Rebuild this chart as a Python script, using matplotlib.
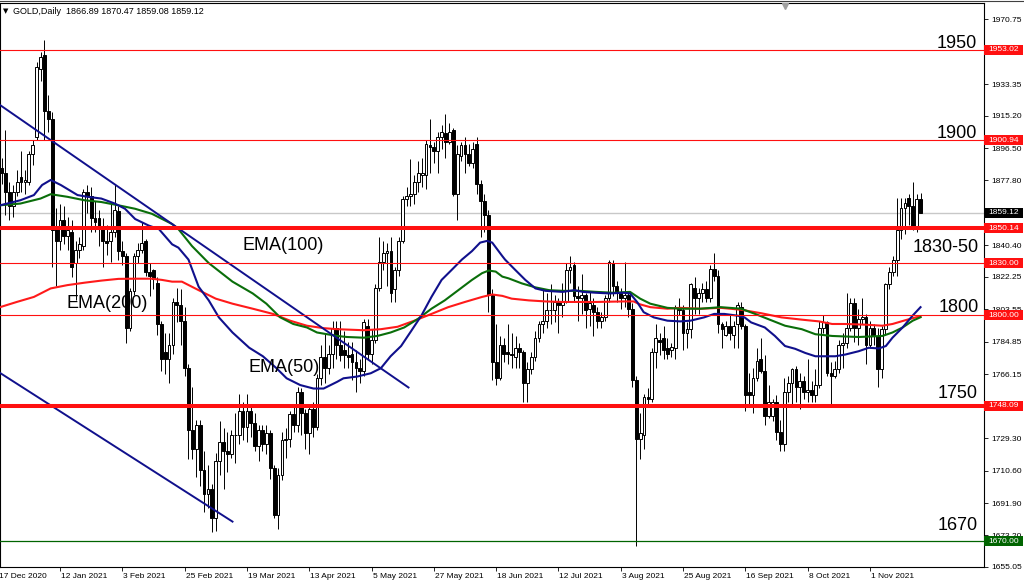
import matplotlib
matplotlib.use("Agg")
import matplotlib.pyplot as plt
import matplotlib.transforms as mtransforms
from matplotlib.patches import Rectangle
import numpy as np

plt.rcParams["font.family"] = ["Liberation Sans", "DejaVu Sans"]

# daily bars, bar 0 = 17 Dec 2020, first drawn bar is bar 1
first_bar = 1
opens = [
    1885, 1882, 1871, 1863, 1871, 1880, 1877, 1877, 1893, 1903,
    1942, 1950, 1918, 1913, 1850, 1843, 1855, 1846, 1848, 1830,
    1838, 1840, 1871, 1869, 1856, 1856, 1850, 1843, 1843, 1848,
    1860, 1837, 1834, 1793, 1814, 1834, 1838, 1843, 1825, 1826,
    1819, 1795, 1779, 1775, 1783, 1808, 1806, 1797, 1770, 1734,
    1723, 1737, 1711, 1697, 1700, 1683, 1716, 1727, 1722, 1720,
    1731, 1731, 1745, 1736, 1745, 1738, 1725, 1734, 1726, 1732,
    1712, 1685, 1708, 1728, 1729, 1743, 1737, 1756, 1744, 1732,
    1746, 1736, 1764, 1776, 1770, 1778, 1793, 1783, 1780, 1777,
    1778, 1773, 1770, 1768, 1794, 1778, 1786, 1816, 1831, 1836,
    1837, 1815, 1826, 1843, 1867, 1869, 1870, 1877, 1881, 1881,
    1898, 1897, 1895, 1903, 1905, 1900, 1907, 1870, 1892, 1898,
    1893, 1888, 1899, 1876, 1866, 1858, 1812, 1773, 1764, 1783,
    1779, 1778, 1776, 1781, 1779, 1761, 1769, 1776, 1787, 1795,
    1797, 1803, 1803, 1808, 1806, 1808, 1826, 1829, 1811, 1810,
    1812, 1804, 1806, 1802, 1797, 1799, 1810, 1830, 1817, 1813,
    1810, 1812, 1804, 1763, 1729, 1731, 1753, 1752, 1779, 1786,
    1787, 1781, 1780, 1781, 1805, 1803, 1790, 1792, 1816, 1810,
    1813, 1815, 1810, 1827, 1823, 1795, 1789, 1794, 1789, 1795,
    1805, 1794, 1756, 1754, 1764, 1775, 1768, 1742, 1742, 1750,
    1733, 1726, 1756, 1761, 1769, 1759, 1762, 1756, 1757, 1754,
    1760, 1793, 1796, 1767, 1765, 1769, 1783, 1784, 1793, 1807,
    1793, 1798, 1799, 1783, 1793, 1788, 1769, 1792, 1818, 1825,
    1832, 1849, 1862, 1868, 1863, 1851, 1866.89,
]
highs = [
    1891, 1907, 1877, 1875, 1884, 1895, 1884, 1895, 1901, 1946,
    1952, 1959, 1927, 1917, 1862, 1864, 1863, 1857, 1855, 1843,
    1845, 1873, 1875, 1874, 1866, 1861, 1856, 1852, 1864, 1876,
    1863, 1843, 1836, 1816, 1836, 1842, 1854, 1844, 1830, 1827,
    1822, 1797, 1790, 1790, 1810, 1816, 1815, 1805, 1772, 1759,
    1740, 1740, 1722, 1714, 1703, 1721, 1739, 1735, 1733, 1734,
    1744, 1755, 1750, 1755, 1747, 1744, 1737, 1737, 1737, 1734,
    1714, 1712, 1733, 1735, 1745, 1748, 1759, 1758, 1746, 1748,
    1750, 1766, 1783, 1790, 1783, 1797, 1797, 1797, 1791, 1785,
    1785, 1780, 1775, 1798, 1798, 1792, 1818, 1845, 1843, 1842,
    1845, 1828, 1845, 1869, 1874, 1890, 1881, 1889, 1891, 1901,
    1913, 1900, 1906, 1910, 1916, 1911, 1908, 1898, 1900, 1903,
    1899, 1900, 1903, 1878, 1870, 1861, 1815, 1795, 1788, 1787,
    1795, 1790, 1788, 1784, 1780, 1773, 1779, 1791, 1797, 1815,
    1813, 1818, 1812, 1810, 1819, 1830, 1834, 1831, 1817, 1824,
    1813, 1814, 1810, 1805, 1802, 1812, 1832, 1832, 1820, 1816,
    1831, 1814, 1807, 1765, 1744, 1755, 1758, 1781, 1795, 1790,
    1794, 1787, 1784, 1806, 1810, 1806, 1796, 1819, 1822, 1816,
    1819, 1820, 1829, 1836, 1826, 1796, 1797, 1800, 1797, 1808,
    1808, 1795, 1767, 1770, 1781, 1787, 1777, 1760, 1752, 1754,
    1740, 1764, 1765, 1770, 1771, 1767, 1765, 1775, 1762, 1769,
    1797, 1800, 1797, 1773, 1774, 1786, 1790, 1813, 1810, 1810,
    1804, 1810, 1801, 1797, 1795, 1793, 1794, 1819, 1828, 1834,
    1868, 1868, 1868, 1870, 1877, 1870, 1870.47,
]
lows = [
    1876, 1858, 1855, 1857, 1869, 1871, 1870, 1875, 1887, 1901,
    1935, 1901, 1906, 1828, 1817, 1838, 1841, 1838, 1822, 1809,
    1833, 1838, 1859, 1848, 1848, 1840, 1828, 1835, 1831, 1845,
    1832, 1829, 1784, 1791, 1812, 1830, 1836, 1823, 1811, 1815,
    1789, 1768, 1766, 1761, 1778, 1796, 1783, 1765, 1717, 1717,
    1707, 1702, 1687, 1689, 1675, 1676, 1708, 1700, 1710, 1718,
    1715, 1726, 1728, 1727, 1730, 1722, 1716, 1722, 1720, 1706,
    1683, 1677, 1705, 1718, 1724, 1733, 1733, 1731, 1723, 1720,
    1730, 1734, 1760, 1761, 1766, 1770, 1775, 1774, 1770, 1770,
    1763, 1756, 1761, 1765, 1775, 1772, 1784, 1814, 1826, 1817,
    1808, 1808, 1823, 1842, 1863, 1863, 1864, 1871, 1874, 1873,
    1882, 1888, 1882, 1896, 1891, 1899, 1869, 1855, 1889, 1882,
    1886, 1885, 1870, 1845, 1848, 1802, 1763, 1760, 1763, 1773,
    1772, 1770, 1770, 1770, 1750, 1750, 1766, 1774, 1785, 1790,
    1793, 1795, 1796, 1790, 1799, 1807, 1819, 1808, 1797, 1801,
    1793, 1794, 1788, 1793, 1793, 1797, 1808, 1811, 1808, 1804,
    1805, 1799, 1759, 1667, 1717, 1723, 1748, 1750, 1770, 1777,
    1775, 1775, 1776, 1775, 1800, 1780, 1781, 1787, 1801, 1801,
    1808, 1808, 1808, 1820, 1790, 1781, 1788, 1786, 1781, 1781,
    1792, 1745, 1747, 1744, 1762, 1767, 1737, 1741, 1739, 1728,
    1722, 1722, 1750, 1748, 1750, 1746, 1752, 1750, 1750, 1750,
    1758, 1790, 1765, 1747, 1764, 1767, 1770, 1781, 1791, 1785,
    1783, 1795, 1772, 1781, 1783, 1759, 1764, 1789, 1815, 1823,
    1823, 1844, 1847, 1852, 1849, 1848, 1859.08,
]
closes = [
    1882, 1871, 1863, 1871, 1877, 1877, 1878, 1893, 1898, 1943,
    1949, 1918, 1913, 1849, 1843, 1855, 1846, 1849, 1828, 1838,
    1841, 1871, 1869, 1856, 1854, 1850, 1843, 1842, 1848, 1861,
    1837, 1834, 1793, 1814, 1834, 1838, 1842, 1825, 1823, 1821,
    1795, 1775, 1775, 1783, 1808, 1806, 1797, 1770, 1734, 1723,
    1737, 1711, 1697, 1700, 1683, 1716, 1727, 1722, 1720, 1731,
    1731, 1745, 1736, 1745, 1738, 1725, 1734, 1726, 1732, 1712,
    1685, 1708, 1728, 1729, 1743, 1737, 1756, 1744, 1732, 1746,
    1736, 1764, 1776, 1770, 1778, 1793, 1783, 1777, 1777, 1776,
    1773, 1770, 1768, 1796, 1778, 1786, 1816, 1831, 1836, 1837,
    1813, 1826, 1843, 1867, 1869, 1870, 1877, 1882, 1882, 1899,
    1897, 1895, 1903, 1906, 1900, 1906, 1870, 1893, 1898, 1893,
    1888, 1896, 1876, 1866, 1858, 1812, 1773, 1764, 1783, 1778,
    1778, 1777, 1781, 1779, 1761, 1769, 1776, 1787, 1795, 1797,
    1803, 1803, 1808, 1806, 1808, 1826, 1828, 1811, 1810, 1812,
    1803, 1807, 1802, 1797, 1799, 1810, 1831, 1817, 1813, 1810,
    1812, 1804, 1763, 1729, 1732, 1753, 1752, 1779, 1787, 1785,
    1780, 1778, 1782, 1805, 1803, 1790, 1792, 1818, 1810, 1813,
    1815, 1810, 1827, 1823, 1795, 1792, 1794, 1790, 1794, 1806,
    1794, 1754, 1754, 1764, 1774, 1768, 1742, 1750, 1750, 1733,
    1726, 1756, 1761, 1769, 1759, 1762, 1756, 1757, 1754, 1760,
    1793, 1796, 1767, 1765, 1769, 1783, 1784, 1793, 1807, 1793,
    1798, 1799, 1783, 1793, 1788, 1769, 1792, 1818, 1825, 1832,
    1849, 1862, 1865, 1863, 1851, 1867, 1859.12,
]

# moving averages: (bar, value)
ema50 = [
    (0.6, 1863.5), (5.8, 1866.4), (9.3, 1869.4), (11.4, 1875.2), (13.6, 1878.1),
    (16.2, 1875.2), (20.5, 1869.4), (23.1, 1868.4), (26.6, 1867.4), (30.1, 1864.5),
    (32.7, 1861.5), (35.3, 1855.6), (38.8, 1851.8), (41.4, 1849.8), (44.8, 1841.0),
    (46.4, 1839.1), (49.0, 1832.2), (51.6, 1816.6), (54.2, 1808.7), (56.8, 1798.9),
    (60.3, 1790.2), (64.6, 1781.4), (68.1, 1776.5), (71.6, 1769.6), (74.2, 1763.8),
    (77.7, 1759.9), (81.1, 1757.9), (83.7, 1757.9), (87.2, 1761.8), (88.8, 1763.8),
    (92.3, 1764.8), (95.8, 1766.7), (98.4, 1769.6), (100.9, 1776.5), (103.6, 1782.4),
    (106.2, 1791.1), (108.8, 1799.9), (111.4, 1810.7), (114.0, 1820.5), (116.6, 1826.3),
    (119.2, 1832.2), (121.8, 1837.1), (123.9, 1842.0), (125.7, 1843.0), (127.0, 1842.0),
    (129.6, 1834.2), (130.3, 1832.2), (132.9, 1826.3), (135.5, 1820.5), (138.1, 1815.6),
    (140.7, 1814.2), (145.1, 1813.6), (148.1, 1814.6), (150.3, 1813.6), (153.7, 1813.1),
    (157.2, 1812.7), (160.7, 1813.1), (162.4, 1812.7), (164.2, 1807.8), (165.9, 1801.9),
    (168.5, 1798.9), (172.0, 1797.0), (175.3, 1796.6), (177.9, 1797.0), (181.4, 1798.9),
    (184.0, 1800.9), (186.6, 1800.9), (190.0, 1799.9), (191.8, 1798.9), (193.5, 1796.0),
    (197.0, 1793.1), (199.6, 1788.2), (202.2, 1782.4), (204.8, 1780.8), (207.4, 1778.4),
    (210.0, 1776.5), (212.6, 1776.5), (215.1, 1776.5), (217.7, 1777.5), (221.1, 1779.4),
    (223.7, 1781.4), (226.3, 1781.0), (228.1, 1782.4), (229.8, 1787.2), (232.4, 1793.1),
    (235.0, 1800.0), (237.0, 1804.8),
]
ema100 = [
    (0.6, 1863.5), (5.8, 1864.5), (11.0, 1867.4), (13.6, 1869.9), (17.9, 1868.4),
    (22.3, 1866.4), (26.6, 1865.4), (31.0, 1863.5), (35.3, 1861.5), (39.6, 1858.6),
    (44.8, 1852.7), (46.4, 1849.8), (49.9, 1840.0), (54.2, 1830.2), (60.3, 1819.5),
    (65.5, 1812.7), (69.0, 1806.8), (72.5, 1799.0), (75.9, 1795.1), (79.4, 1793.1),
    (82.0, 1790.2), (87.2, 1788.2), (89.7, 1787.6), (94.0, 1787.2), (97.5, 1788.2),
    (100.9, 1790.2), (104.4, 1793.1), (107.9, 1798.0), (111.4, 1803.9), (114.8, 1808.7),
    (118.3, 1814.6), (121.8, 1820.5), (124.4, 1824.4), (126.1, 1825.9), (127.9, 1825.3),
    (129.6, 1822.4), (131.2, 1821.4), (134.6, 1818.5), (138.1, 1816.2), (141.6, 1814.6),
    (145.1, 1814.2), (149.4, 1814.2), (153.7, 1813.6), (158.1, 1813.1), (162.4, 1813.6),
    (165.0, 1809.7), (167.6, 1806.8), (172.0, 1804.4), (175.3, 1803.9), (180.5, 1803.9),
    (185.7, 1804.8), (190.9, 1803.9), (194.4, 1801.0), (197.8, 1798.0), (202.2, 1794.1),
    (206.5, 1792.1), (210.0, 1789.2), (214.3, 1788.2), (221.1, 1787.6), (227.2, 1788.2),
    (229.8, 1790.2), (232.4, 1793.1), (235.0, 1797.0), (237.0, 1799.0),
]
ema200 = [
    (0.6, 1804.8), (4.9, 1807.8), (9.3, 1810.7), (13.6, 1815.6), (17.9, 1817.5),
    (22.3, 1818.9), (26.6, 1820.1), (31.0, 1821.1), (35.3, 1821.2), (39.6, 1821.2),
    (42.2, 1820.5), (44.8, 1819.5), (47.3, 1819.5), (51.6, 1814.6), (56.0, 1809.7),
    (60.3, 1806.8), (65.5, 1803.9), (70.7, 1800.9), (75.1, 1797.0), (79.4, 1794.1),
    (83.7, 1792.7), (87.2, 1792.1), (94.0, 1791.5), (98.4, 1792.1), (102.7, 1793.5),
    (107.0, 1797.0), (111.4, 1800.9), (115.7, 1804.8), (120.0, 1807.8), (124.4, 1810.7),
    (127.0, 1812.1), (129.6, 1811.3), (132.0, 1809.7), (136.4, 1808.7), (140.7, 1808.1),
    (145.1, 1807.8), (153.7, 1807.8), (160.7, 1808.1), (163.3, 1808.1), (165.0, 1806.4),
    (167.6, 1804.8), (172.0, 1803.9), (175.3, 1804.4), (180.5, 1803.9), (185.7, 1804.4),
    (190.9, 1803.3), (196.1, 1801.3), (201.3, 1798.9), (206.5, 1797.6), (210.9, 1796.6),
    (214.3, 1795.1), (217.7, 1795.1), (222.9, 1794.7), (227.2, 1794.1), (229.8, 1795.1),
    (233.3, 1797.4), (235.9, 1799.0), (237.0, 1799.3),
]

# hand drawn channel lines: (bar, price) end points
trend_upper = [(0.59, 1921.3), (105.5, 1758.5)]
trend_lower = [(0.59, 1766.9), (60.3, 1681.2)]

thin_levels = [1953.02, 1900.94, 1830.00, 1800.00]
thick_levels = [1850.14, 1748.09]
green_level = 1670.00
last_price = 1859.12

marked_prices = [1953.02, 1900.94, 1859.12, 1850.14, 1830.00, 1800.00, 1748.09, 1670.00]
marked_colors = ["#ff1010", "#ff1010", "black", "#ff1010", "#ff1010", "#ff1010", "#ff1010", "#006400"]

price_ticks = [1970.75, 1933.35, 1915.20, 1896.50, 1877.80, 1840.40, 1822.25, 1803.55,
               1784.85, 1766.15, 1729.30, 1710.60, 1691.90, 1673.20, 1655.05]

date_bars = [0, 16, 32, 48, 64, 80, 96, 112, 128, 144, 160, 176, 192, 208, 224]
date_labels = ["17 Dec 2020", "12 Jan 2021", "3 Feb 2021", "25 Feb 2021", "19 Mar 2021",
               "13 Apr 2021", "5 May 2021", "27 May 2021", "18 Jun 2021", "12 Jul 2021",
               "3 Aug 2021", "25 Aug 2021", "16 Sep 2021", "8 Oct 2021", "1 Nov 2021"]

W, H = 1024, 584
fig = plt.figure(figsize=(W / 100, H / 100), dpi=100)
ax = fig.add_axes([0, 1 - 567 / H, 984 / W, 564 / H])
ax.set_xlim(0.59, 253.3)
ax.set_ylim(1655.04, 1980.1)

# candles
o = np.array(opens)
h = np.array(highs)
l = np.array(lows)
c = np.array(closes)
x = np.arange(first_bar, first_bar + len(c))
up = c >= o
ax.vlines(x, l, h, color="black", lw=0.7, zorder=2)
ax.bar(x[up], (c - o)[up], bottom=o[up], width=0.72, facecolor="white",
       edgecolor="black", lw=0.7, zorder=3)
ax.bar(x[~up], (c - o)[~up], bottom=o[~up], width=0.72, facecolor="black",
       edgecolor="black", lw=0.7, zorder=3)

# moving averages
for pts, col in [(ema200, "#ff1a1a"), (ema100, "#0a6e0a"), (ema50, "#10108c")]:
    ex, ey = zip(*pts)
    ax.plot(ex, ey, color=col, lw=1.5, zorder=4)

# channel
for pts in [trend_upper, trend_lower]:
    tx, ty = zip(*pts)
    ax.plot(tx, ty, color="#10108c", lw=1.4, zorder=5)

# levels
ax.axhline(last_price, color="#c8c8c8", lw=1.0, zorder=1)
for lv in thin_levels:
    ax.axhline(lv, color="#ff1010", lw=0.8, zorder=5)
for lv in thick_levels:
    ax.axhline(lv, color="#ff1010", lw=2.9, zorder=5)
ax.axhline(green_level, color="#006400", lw=0.9, zorder=5)

# axes look
for sp in ax.spines.values():
    sp.set_color("black")
    sp.set_linewidth(0.8)
ax.yaxis.tick_right()
ax.set_yticks(price_ticks)
ax.set_yticklabels([f"{p:.2f}" for p in price_ticks])
ax.tick_params(axis="y", length=3, width=0.6, pad=2, labelsize=6)
ax.set_xticks([b for b in date_bars if b > 0.59])
ax.set_xticklabels([])
ax.tick_params(axis="x", length=3, width=0.6)

for b, lab in zip(date_bars, date_labels):
    ax.annotate(lab, xy=(b, 0), xycoords=("data", "axes fraction"),
                xytext=(1, -10), textcoords="offset pixels",
                ha="left", va="center", fontsize=6, annotation_clip=False)

# price boxes on the right scale
box_t = mtransforms.blended_transform_factory(ax.transAxes, ax.transData)
box_h = 10 / (564 / (1980.1 - 1655.04))
for p, col in zip(marked_prices, marked_colors):
    ax.add_patch(Rectangle((1.0, p - box_h / 2), 39 / 984, box_h, transform=box_t,
                           facecolor=col, edgecolor="none", clip_on=False, zorder=10))
    ax.text(1.0 + 4 / 984, p, f"{p:.2f}", transform=box_t, color="white",
            fontsize=6, ha="left", va="center", clip_on=False, zorder=11)

# top marker
ax.plot([202.2], [0.995], marker="v", color="#a0a0a0", ms=5,
        transform=mtransforms.blended_transform_factory(ax.transData, ax.transAxes),
        clip_on=False, zorder=12)


def fpos(px, py):
    return px / W, 1 - py / H


fig.add_artist(plt.Line2D([0, 1], [1 - 0.5 / H, 1 - 0.5 / H], color="#404040",
                          lw=0.8, transform=fig.transFigure))
fig.text(*fpos(3, 11), "\u25bc", fontsize=5, va="center", ha="left",
         family=["DejaVu Sans"])
fig.text(*fpos(13, 11), "GOLD,Daily  1866.89 1870.47 1859.08 1859.12",
         fontsize=6.5, va="center", ha="left")

notes_right = [("1950", 977, 43), ("1900", 977, 134), ("1830-50", 979, 248),
               ("1800", 979, 307), ("1750", 978, 393), ("1670", 978, 525)]
for s, px, py in notes_right:
    fig.text(*fpos(px, py), s, fontsize=13, ha="right", va="center")
notes_left = [("EMA(100)", 243, 245), ("EMA(200)", 67, 304), ("EMA(50)", 249, 368)]
for s, px, py in notes_left:
    fig.text(*fpos(px, py), s, fontsize=13, ha="left", va="center")

fig.savefig("out.png", dpi=100)
